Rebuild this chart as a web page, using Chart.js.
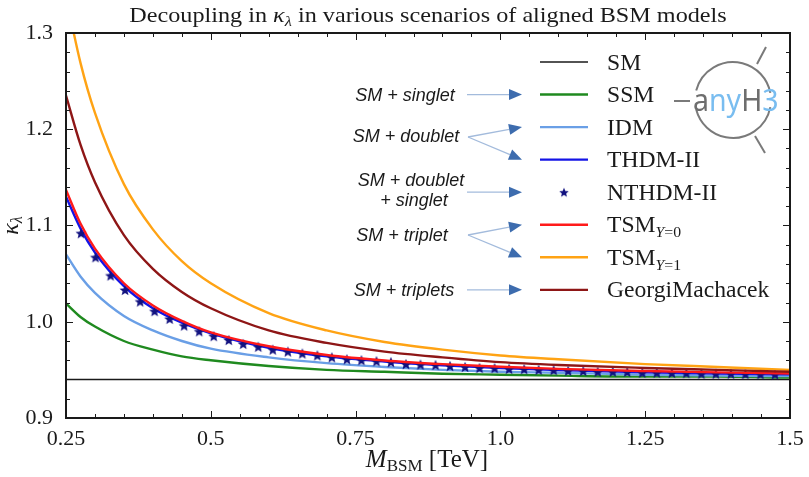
<!DOCTYPE html>
<html>
<head>
<meta charset="utf-8">
<title>Decoupling in kappa_lambda</title>
<script src="https://cdn.jsdelivr.net/npm/chart.js"></script>
<style>
  html, body { margin: 0; padding: 0; background: #fff; }
  #wrap { position: relative; width: 809px; height: 477px; }
  canvas { display: block; position: absolute; left: 0; top: 0; }
  #frameLayer { pointer-events: none; }
</style>
</head>
<body>
<div id="wrap">
  <canvas id="kappaChart" width="809" height="477"></canvas>
  <canvas id="frameLayer" width="809" height="477"></canvas>
</div>
<script>
// BSM mass (TeV) for the smooth curves
const massGrid = [0.25, 0.275, 0.3, 0.35, 0.4, 0.45, 0.5, 0.6, 0.7, 0.8, 0.9, 1.0, 1.1, 1.25, 1.375, 1.5];

const smMass = [0.25, 1.5];
const kappaSM = [0.94, 0.94];
const kappaSSM = [1.019, 1.005, 0.995, 0.980, 0.971, 0.964, 0.960, 0.954, 0.950, 0.948, 0.946, 0.945, 0.944, 0.943, 0.943, 0.942];
const kappaIDM = [1.070, 1.047, 1.030, 1.006, 0.991, 0.980, 0.972, 0.963, 0.957, 0.953, 0.950, 0.948, 0.947, 0.945, 0.944, 0.9435];
const kappaTHDM = [1.130, 1.097, 1.072, 1.037, 1.014, 0.999, 0.988, 0.973, 0.964, 0.9586, 0.9547, 0.9519, 0.9498, 0.9476, 0.9463, 0.9453];
const kappaTSM0 = [1.137, 1.102, 1.076, 1.040, 1.017, 1.001, 0.989, 0.9745, 0.9655, 0.9598, 0.956, 0.9532, 0.951, 0.9488, 0.9474, 0.9463];
const kappaTSM1 = [1.338, 1.269, 1.217, 1.143, 1.096, 1.063, 1.040, 1.009, 0.991, 0.979, 0.971, 0.965, 0.961, 0.956, 0.953, 0.950];
const kappaGM = [1.235, 1.184, 1.145, 1.090, 1.055, 1.031, 1.014, 0.991, 0.978, 0.969, 0.963, 0.958, 0.955, 0.952, 0.950, 0.948];

// NTHDM-II scan points (stars)
const starMass = [0.276, 0.301, 0.327, 0.352, 0.378, 0.403, 0.429, 0.454, 0.480, 0.505, 0.531, 0.556,
  0.582, 0.607, 0.633, 0.658, 0.684, 0.709, 0.735, 0.760, 0.786, 0.811, 0.837, 0.862,
  0.888, 0.913, 0.939, 0.964, 0.990, 1.015, 1.041, 1.066, 1.092, 1.117, 1.143, 1.168,
  1.194, 1.219, 1.245, 1.270, 1.296, 1.321, 1.347, 1.372, 1.398, 1.423, 1.449, 1.474];
const kappaNTHDM = [1.092, 1.067, 1.048, 1.033, 1.021, 1.011, 1.003, 0.996, 0.990, 0.985, 0.981, 0.977,
  0.974, 0.971, 0.969, 0.967, 0.965, 0.963, 0.961, 0.960, 0.959, 0.958, 0.956, 0.9555,
  0.955, 0.954, 0.953, 0.952, 0.9518, 0.951, 0.9507, 0.950, 0.9497, 0.949, 0.9488, 0.948,
  0.948, 0.9478, 0.947, 0.947, 0.9468, 0.9466, 0.946, 0.946, 0.946, 0.9457, 0.9455, 0.9453];

const xTickValues = [0.25, 0.5, 0.75, 1.0, 1.25, 1.5];
const xTickLabels = ['0.25', '0.5', '0.75', '1.0', '1.25', '1.5'];
const yTickLabels = ['0.9', '1.0', '1.1', '1.2', '1.3'];

const legendNames = ['SM', 'SSM', 'IDM', 'THDM-II', 'NTHDM-II', 'TSM', 'TSM', 'GeorgiMachacek'];
const legendSubs = ['', '', '', '', '', '0', '1', ''];

const SERIF = "'Liberation Serif', 'DejaVu Serif', serif";
const SANS = "'Liberation Sans', Arial, sans-serif";

const colors = {
  sm: '#1a1a1a', ssm: '#1f8a1f', idm: '#6a9fe6', thdm: '#1414e6',
  nthdm: '#121280', tsm0: '#ff1a1a', tsm1: '#ffa314', gm: '#8e1616'
};

function pts(xs, ys) {
  return xs.map((x, i) => ({ x: x, y: ys[i] }));
}

// filled five point star for the NTHDM-II markers
function makeStar(color, r) {
  const c = document.createElement('canvas');
  const s = Math.ceil(r * 2 + 2);
  c.width = s; c.height = s;
  const g = c.getContext('2d');
  g.translate(s / 2, s / 2 + 0.5);
  g.beginPath();
  for (let i = 0; i < 10; i++) {
    const rad = i % 2 === 0 ? r : r * 0.45;
    const a = -Math.PI / 2 + i * Math.PI / 5;
    g.lineTo(rad * Math.cos(a), rad * Math.sin(a));
  }
  g.closePath();
  g.fillStyle = color;
  g.fill();
  return c;
}
const starImg = makeStar(colors.nthdm, 5.8);
const legendStar = makeStar(colors.nthdm, 5);

function lineSet(label, xs, ys, color, width, order) {
  return {
    label: label, data: pts(xs, ys), showLine: true, borderColor: color,
    borderWidth: width, pointRadius: 0, cubicInterpolationMode: 'monotone', order: order
  };
}

const datasets = [
  lineSet('SM', smMass, kappaSM, colors.sm, 1.6, 8),
  lineSet('SSM', massGrid, kappaSSM, colors.ssm, 2.4, 7),
  lineSet('IDM', massGrid, kappaIDM, colors.idm, 2.4, 6),
  lineSet('THDM-II', massGrid, kappaTHDM, colors.thdm, 2.4, 5),
  {
    label: 'NTHDM-II', data: pts(starMass, kappaNTHDM), showLine: false,
    pointStyle: starImg, pointRadius: 6, order: 4
  },
  lineSet('TSM0', massGrid, kappaTSM0, colors.tsm0, 2.4, 3),
  lineSet('TSM1', massGrid, kappaTSM1, colors.tsm1, 2.4, 2),
  lineSet('GeorgiMachacek', massGrid, kappaGM, colors.gm, 2.4, 1)
];
const legendColors = [colors.sm, colors.ssm, colors.idm, colors.thdm, colors.nthdm, colors.tsm0, colors.tsm1, colors.gm];

// draw a run of text pieces [{t, font, dy, color}]; sx stretches it sideways
function drawRich(g, parts, x, y, align, sx) {
  sx = sx || 1;
  let total = 0;
  parts.forEach(p => { g.font = p.font; p.w = g.measureText(p.t).width; total += p.w; });
  g.save();
  g.translate(x, y);
  g.scale(sx, 1);
  let cx = align === 'center' ? -total / 2 : 0;
  g.textAlign = 'left';
  g.textBaseline = 'alphabetic';
  parts.forEach(p => {
    g.font = p.font;
    g.fillStyle = p.color || '#1a1a1a';
    g.fillText(p.t, cx, p.dy || 0);
    cx += p.w;
  });
  g.restore();
}

function arrow(g, x0, y0, x1, y1) {
  const a = Math.atan2(y1 - y0, x1 - x0);
  const hl = 13, hw = 5.5;
  const bx = x1 - hl * Math.cos(a), by = y1 - hl * Math.sin(a);
  g.strokeStyle = '#a3bbdc';
  g.lineWidth = 1.3;
  g.beginPath(); g.moveTo(x0, y0); g.lineTo(bx, by); g.stroke();
  g.fillStyle = '#3d6cae';
  g.beginPath();
  g.moveTo(x1, y1);
  g.lineTo(bx + hw * Math.sin(a), by - hw * Math.cos(a));
  g.lineTo(bx - hw * Math.sin(a), by + hw * Math.cos(a));
  g.closePath(); g.fill();
}

// axes box with inward ticks on all four sides
function drawFrame(g, chart) {
  const a = chart.chartArea;
  const xs = chart.scales.x, ys = chart.scales.y;
  const w = a.right - a.left, h = a.bottom - a.top;
  g.save();
  g.fillStyle = '#1a1a1a';
  g.fillRect(Math.round(a.left) - 1, Math.round(a.top) - 1, Math.round(w) + 2, 2);
  g.fillRect(Math.round(a.left) - 1, Math.round(a.bottom) - 1, Math.round(w) + 2, 2);
  g.fillRect(Math.round(a.left) - 1, Math.round(a.top) - 1, 2, Math.round(h) + 2);
  g.fillRect(Math.round(a.right) - 1, Math.round(a.top) - 1, 2, Math.round(h) + 2);
  for (let k = 0; k <= 25; k++) {
    const px = Math.round(xs.getPixelForValue(0.25 + k * 0.05));
    const len = k % 5 === 0 ? 7 : 4;
    g.fillRect(px, Math.round(a.bottom) - len, 1, len);
    g.fillRect(px, Math.round(a.top), 1, len);
  }
  for (let k = 0; k <= 20; k++) {
    const py = Math.round(ys.getPixelForValue(0.9 + k * 0.02));
    const len = k % 5 === 0 ? 7 : 4;
    g.fillRect(Math.round(a.left), py, len, 1);
    g.fillRect(Math.round(a.right) - len, py, len, 1);
  }
  g.restore();
}

function drawDecor(chart) {
  const g = chart.ctx, a = chart.chartArea;
  g.save();
  // title
  drawRich(g, [
    { t: 'Decoupling in ', font: `22px ${SERIF}` },
    { t: 'κ', font: `italic 22px ${SERIF}` },
    { t: 'λ', font: `italic 15px ${SERIF}`, dy: 4 },
    { t: ' in various scenarios of aligned BSM models', font: `22px ${SERIF}` }
  ], 428, 22, 'center', 1.1);

  // x axis title
  drawRich(g, [
    { t: 'M', font: `italic 25px ${SERIF}` },
    { t: 'BSM', font: `17px ${SERIF}`, dy: 4 },
    { t: ' [TeV]', font: `25px ${SERIF}` }
  ], 427, 467, 'center', 1.0);

  // y axis title
  g.save();
  g.translate(18, (a.top + a.bottom) / 2);
  g.rotate(-Math.PI / 2);
  drawRich(g, [
    { t: 'κ', font: `italic 24px ${SERIF}` },
    { t: 'λ', font: `italic 16px ${SERIF}`, dy: 4 }
  ], 0, 0, 'center');
  g.restore();

  // legend
  const rowTop = 62, rowStep = 32.55;
  legendNames.forEach((name, i) => {
    const y = rowTop + i * rowStep;
    if (i === 4) {
      g.drawImage(legendStar, 564 - legendStar.width / 2, y - legendStar.height / 2);
    } else {
      g.strokeStyle = legendColors[i];
      g.lineWidth = i === 0 ? 1.6 : 2.4;
      g.beginPath(); g.moveTo(540, y); g.lineTo(588, y); g.stroke();
    }
    const parts = [{ t: name, font: `22.5px ${SERIF}` }];
    if (legendSubs[i]) {
      parts.push({ t: 'Y', font: `italic 15px ${SERIF}`, dy: 5 });
      parts.push({ t: '=' + legendSubs[i], font: `15px ${SERIF}`, dy: 5 });
    }
    drawRich(g, parts, 607, y + 7.5, 'left', 1.05);
  });

  // model annotations with arrows
  const ann = `italic 18px ${SANS}`;
  const row = i => rowTop + i * rowStep;
  drawRich(g, [{ t: 'SM + singlet', font: ann }], 405, row(1) + 6, 'center');
  arrow(g, 467, row(1), 522, row(1));
  drawRich(g, [{ t: 'SM + doublet', font: ann }], 406, 142, 'center');
  arrow(g, 468, 137, 522, row(2));
  arrow(g, 468, 137, 522, row(3));
  drawRich(g, [{ t: 'SM + doublet', font: ann }], 411, 186, 'center');
  drawRich(g, [{ t: '+ singlet', font: ann }], 414, 206, 'center');
  arrow(g, 467, row(4), 522, row(4));
  drawRich(g, [{ t: 'SM + triplet', font: ann }], 402, 241, 'center');
  arrow(g, 468, 235, 522, row(5));
  arrow(g, 468, 235, 522, row(6));
  drawRich(g, [{ t: 'SM + triplets', font: ann }], 404, row(7) + 6, 'center');
  arrow(g, 467, row(7), 522, row(7));

  // anyH3 logo
  const lx = 733, ly = 100, lr = 38;
  g.strokeStyle = '#7a7a7a';
  g.lineWidth = 2;
  g.beginPath(); g.arc(lx, ly, lr, Math.PI * 1.08, Math.PI * 1.94); g.stroke();
  g.beginPath(); g.arc(lx, ly, lr, Math.PI * 0.06, Math.PI * 0.92); g.stroke();
  g.beginPath(); g.moveTo(757, 64); g.lineTo(766, 47); g.stroke();
  g.beginPath(); g.moveTo(755, 136); g.lineTo(765, 153); g.stroke();
  g.beginPath(); g.moveTo(674, 101); g.lineTo(690, 101); g.stroke();
  const logoFont = `30px 'Noto Sans', 'DejaVu Sans', sans-serif`;
  drawRich(g, [
    { t: 'a', font: logoFont, color: '#6e6e6e' },
    { t: 'ny', font: logoFont, color: '#79bdf0' },
    { t: 'H', font: logoFont, color: '#6e6e6e' },
    { t: '3', font: logoFont, color: '#79bdf0' }
  ], 693, 111, 'left', 0.95);
  g.restore();
}

const framePlugin = {
  id: 'kappaFrame',
  afterDraw(chart) {
    drawDecor(chart);
    drawFrame(chart.ctx, chart);
    // same box on a layer above the chart canvas
    const layer = document.getElementById('frameLayer').getContext('2d');
    layer.clearRect(0, 0, 809, 477);
    drawFrame(layer, chart);
  }
};

new Chart(document.getElementById('kappaChart').getContext('2d'), {
  type: 'scatter',
  data: { datasets: datasets },
  options: {
    responsive: false,
    animation: false,
    devicePixelRatio: 1,
    layout: { padding: { left: 0, right: 19, top: 33, bottom: 0 } },
    plugins: { legend: { display: false }, title: { display: false }, tooltip: { enabled: false } },
    scales: {
      x: {
        type: 'linear', min: 0.25, max: 1.5,
        grid: { display: false }, border: { display: false },
        afterBuildTicks: s => { s.ticks = xTickValues.map(v => ({ value: v })); },
        afterFit: s => { s.height = 59; },
        ticks: {
          autoSkip: false, maxRotation: 0, padding: 0, color: '#1a1a1a',
          font: { family: SERIF, size: 22 },
          callback: (v, i) => xTickLabels[i]
        }
      },
      y: {
        type: 'linear', min: 0.9, max: 1.3,
        grid: { display: false }, border: { display: false },
        afterFit: s => { s.width = 66; },
        ticks: {
          stepSize: 0.1, padding: 5, color: '#1a1a1a',
          font: { family: SERIF, size: 22 },
          callback: (v, i) => yTickLabels[i]
        }
      }
    }
  },
  plugins: [framePlugin]
});
</script>
</body>
</html>
